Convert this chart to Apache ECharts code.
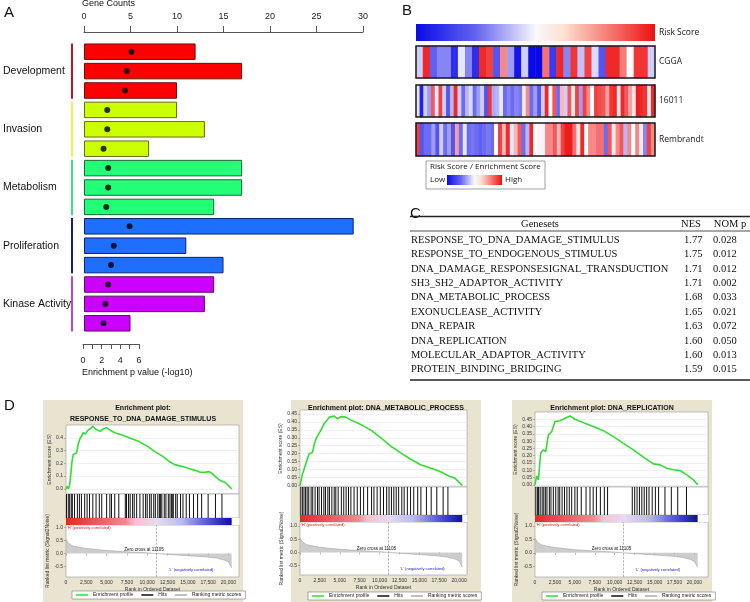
<!DOCTYPE html>
<html>
<head>
<meta charset="utf-8">
<script src="https://cdn.jsdelivr.net/npm/echarts@6/dist/echarts.min.js"></script>
<style>
  html, body { margin: 0; padding: 0; background: #fff; }
  #main { width: 750px; height: 602px; }
</style>
</head>
<body>
<div id="main"></div>
<script>
// ---- A: GO term groups ----
const groupNames = ['Development', 'Invasion', 'Metabolism', 'Proliferation', 'Kinase Activity'];
const geneCounts = [12, 17, 10, 10, 13, 7, 17, 17, 14, 29, 11, 15, 14, 13, 5];
const pLog10 = [5.1, 4.6, 4.4, 2.5, 2.5, 2.1, 2.6, 2.6, 2.4, 4.9, 3.2, 2.9, 2.6, 2.3, 2.1];
const termIds = geneCounts.map((_, i) => 'term' + (i + 1));

// ---- B: risk score / enrichment heatmaps ----
const heatRows = ['CGGA', '16011', 'Rembrandt'];
const cgga = [-0.2, 0.9, -0.65, -0.5, -0.5, -0.85, -0.1, -0.5, -0.85, 0.9, 0.8, -0.7, 0.5, -0.4, -0.95, -0.2, -1, -1,
  0.6, -0.8, 0.9, -0.5, 0.85, -0.25, 0.8, -0.15, -0.7, 0.9, 0.9, 0.55, 0.0, 0.85, 0.85, -0.2];
const gse16011 = [-0.1, -0.9, -0.2, -0.4, 0.7, -0.1, 0.8, -0.2, -0.7, -0.3,
  0.9, -0.2, -0.6, -0.3, -0.15, -0.6, -0.4, -0.2, -0.7, 0.85,
  -0.35, -0.3, -0.1, -0.6, -0.5, -0.6, -0.5, -0.55, -0.1, 0.5,
  -0.6, -0.4, -0.7, -0.2, 0.9, 0.0, 0.7, -0.6, 0.3, -0.2,
  0.7, 0.1, 0.8, -0.4, 0.8, 0.5, 0.0, 0.8, 0.75, 0.7,
  0.4, 0.85, 0.9, 0.1, 0.9, 0.7, 0.4, 0.1, 0.95, 0.9, 0.85, 0.1, 0.9];
const rembrandt = [0.8, -0.7, -0.6, -0.6, -0.4, -0.7, -0.2, -0.6, -0.4, -0.7,
  0.4, -0.6, -0.1, -0.6, -0.55, -0.6, -0.65, -0.6, -0.55, -0.6,
  0.0, 0.8, 0.3, 0.9, -0.1, 0.3, 0.7, -0.6, -0.3, 0.9,
  0.0, 0.05, -0.05, 0.5, 0.5, 0.7, 0.3, 0.8, 0.95, 0.95,
  0.6, 0.1, 0.9, 0.0, 0.5, 0.5, 0.6, 0.6, -0.6, 0.7,
  0.1, 0.5, 0.7, -0.3, 0.5, 0.0, 0.5, 0.1, -0.5, 0.8, 0.5];
const heatData = [cgga, gse16011, rembrandt];

// ---- C: GSEA table ----
const genesets = ['RESPONSE_TO_DNA_DAMAGE_STIMULUS', 'RESPONSE_TO_ENDOGENOUS_STIMULUS',
  'DNA_DAMAGE_RESPONSESIGNAL_TRANSDUCTION', 'SH3_SH2_ADAPTOR_ACTIVITY', 'DNA_METABOLIC_PROCESS',
  'EXONUCLEASE_ACTIVITY', 'DNA_REPAIR', 'DNA_REPLICATION', 'MOLECULAR_ADAPTOR_ACTIVITY', 'PROTEIN_BINDING_BRIDGING'];
const nesValues = ['1.77', '1.75', '1.71', '1.71', '1.68', '1.65', '1.63', '1.60', '1.60', '1.59'];
const nomPValues = ['0.028', '0.012', '0.012', '0.002', '0.033', '0.021', '0.072', '0.050', '0.013', '0.015'];

// ---- D: enrichment plots ----
const plotTitles = ['Enrichment plot:\nRESPONSE_TO_DNA_DAMAGE_STIMULUS',
  'Enrichment plot: DNA_METABOLIC_PROCESS', 'Enrichment plot: DNA_REPLICATION'];
const esResponse = [[0, 0], [150, 0.02], [300, 0.0], [450, 0.03], [600, 0.12], [750, 0.22], [900, 0.27], [1100, 0.26],
  [1300, 0.28], [1500, 0.35], [1700, 0.39], [1900, 0.41], [2100, 0.44], [2400, 0.43], [2700, 0.46], [3000, 0.47],
  [3300, 0.49], [3600, 0.47], [3900, 0.46], [4200, 0.45], [4600, 0.47], [5000, 0.48], [5400, 0.46], [6000, 0.44],
  [7000, 0.42], [8000, 0.395], [9000, 0.37], [10000, 0.335], [11000, 0.29], [12000, 0.25], [12800, 0.21],
  [13400, 0.19], [14000, 0.18], [14700, 0.17], [15300, 0.155], [15900, 0.145], [16500, 0.13], [17100, 0.13],
  [17600, 0.135], [18000, 0.12], [18500, 0.09], [19000, 0.065], [19600, 0.05], [20000, 0.025], [20400, 0.0]];
const esMetabolic = [[0, 0], [290, 0.067], [530, 0.056], [820, 0.15], [1150, 0.2], [1560, 0.207], [1800, 0.26],
  [2050, 0.297], [2540, 0.34], [3070, 0.39], [3690, 0.43], [4300, 0.437], [4710, 0.42], [5120, 0.433], [5740, 0.43],
  [6560, 0.408], [7790, 0.38], [9020, 0.345], [10250, 0.297], [11480, 0.245], [12700, 0.203], [13930, 0.165],
  [15160, 0.13], [16390, 0.109], [17620, 0.088], [18850, 0.056], [19470, 0.046], [20400, 0.0]];
const esReplication = [[0, 0], [210, 0.062], [420, 0.034], [710, 0.217], [1050, 0.24], [1340, 0.228], [1670, 0.342],
  [2090, 0.365], [2510, 0.434], [3140, 0.44], [3770, 0.457], [4390, 0.473], [5020, 0.45], [6070, 0.427], [7320, 0.40],
  [8580, 0.372], [9830, 0.331], [11090, 0.285], [12340, 0.24], [13600, 0.19], [14850, 0.144], [15690, 0.137],
  [16530, 0.114], [17360, 0.103], [18200, 0.098], [19040, 0.068], [19870, 0.034], [20400, 0]];
const hitsResponse = [60, 280, 450, 650, 780, 1050, 1400, 1650, 1900, 2300, 2600, 2900, 3300, 3700, 4100, 4400, 5000,
  5400, 5600, 6000, 6500, 7300, 7450, 7700, 7900, 8200, 8400, 8700, 9100, 9500, 9800, 10000, 10300, 10500, 10800,
  11000, 11300, 11500, 11650, 11800, 12100, 12300, 12600, 12800, 13000, 13150, 13200, 13500, 13700, 14100, 14400,
  14800, 15200, 15700, 16200, 16700, 17500, 18400, 19200];
const hitsMetabolic = [100, 300, 500, 700, 900, 1100, 1400, 1600, 1900, 2200, 2400, 2700, 3000, 3200, 3500, 3700, 4000,
  4300, 4500, 4800, 5200, 5500, 5800, 6100, 6400, 6800, 7200, 7600, 8000, 8500, 9000, 9300, 9700, 10100, 10500,
  10900, 11200, 11500, 11800, 12100, 12400, 12800, 13100, 13500, 13900, 14300, 14800, 15200, 15900, 16500, 17200,
  18000, 18600];
const hitsReplication = [100, 300, 450, 650, 900, 1100, 1300, 1500, 1800, 2000, 2300, 2600, 2900, 3100, 3400, 3700,
  4000, 4300, 4600, 5000, 5300, 5800, 6400, 6900, 7300, 7700, 8200, 8700, 9100, 12200, 12500, 12800, 13100, 13400,
  13700, 14000, 14300, 14700, 15100, 15500, 16300, 17100, 17900, 19000];
const rankedMetric = [[0, 0.55], [300, 0.4], [800, 0.3], [1500, 0.25], [2500, 0.2], [4000, 0.15], [5000, 0.12],
  [7500, 0.07], [10000, 0.03], [11105, 0], [12500, -0.03], [15000, -0.08], [17000, -0.12], [18500, -0.17],
  [19500, -0.25], [20000, -0.32], [20400, -0.55]];
const datasetSize = 20400;
const zeroCross = 11105;
const rankTicks = [0, 2500, 5000, 7500, 10000, 12500, 15000, 17500, 20000];
const esProfiles = [esResponse, esMetabolic, esReplication];
const hitSets = [hitsResponse, hitsMetabolic, hitsReplication];

// layout of the three GSEA plots (pixels)
const plotLayout = [
  { box: [43, 400, 200, 202], left: 66, width: 173, es: [425, 494], hits: [494, 518], bar: [518, 525], rank: [525, 577],
    xMax: 21300, esMin: -0.04, esMax: 0.5, esTicks: [0, 0.1, 0.2, 0.3, 0.4], digits: 1, rankMin: -0.9, rankMax: 1.1, legend: [72, 591] },
  { box: [291, 400, 190, 202], left: 300, width: 167, es: [410, 487], hits: [487, 515], bar: [515, 522], rank: [522, 575],
    xMax: 21000, esMin: -0.01, esMax: 0.475, esTicks: [0, 0.05, 0.1, 0.15, 0.2, 0.25, 0.3, 0.35, 0.4, 0.45], digits: 2, rankMin: -0.85, rankMax: 1.15, legend: [308, 592] },
  { box: [512, 400, 200, 202], left: 535, width: 173, es: [412, 487], hits: [487, 515], bar: [515, 522], rank: [522, 577],
    xMax: 21700, esMin: -0.015, esMax: 0.5, esTicks: [0, 0.05, 0.1, 0.15, 0.2, 0.25, 0.3, 0.35, 0.4, 0.45], digits: 2, rankMin: -0.9, rankMax: 1.15, legend: [542, 592] }
];

const SANS = 'Liberation Sans, Arial, sans-serif';
const barFill = ['#ff0000', '#ccff00', '#22ff77', '#1f6fff', '#cc00ff'];
const barEdge = ['#6a1010', '#6a6a20', '#1a6a3a', '#10206a', '#5a105a'];
const groupLine = ['#c8102e', '#f2f04a', '#3ee08e', '#1a1a8c', '#c040d0'];

const chart = echarts.init(document.getElementById('main'));

const grids = [
  { left: 83, top: 42, width: 280, height: 291 },
  { left: 83, top: 334, width: 56, height: 10 }
];
const xAxes = [
  { gridIndex: 0, type: 'value', position: 'top', offset: 10, min: 0, max: 30, interval: 5,
    axisLine: { show: true, lineStyle: { color: '#555' } },
    axisTick: { show: true, length: 6, lineStyle: { color: '#555' } },
    axisLabel: { fontSize: 9, color: '#222', margin: 11 }, splitLine: { show: false } },
  { gridIndex: 0, type: 'value', min: 0, max: 30, show: false },
  { gridIndex: 1, type: 'value', position: 'bottom', min: 0, max: 6, interval: 1,
    axisLine: { show: true, lineStyle: { color: '#555' } },
    axisTick: { show: true, length: 5, lineStyle: { color: '#555' } },
    axisLabel: { fontSize: 9, color: '#222', margin: 12, formatter: v => (v % 2 === 0 ? String(v) : '') },
    splitLine: { show: false } }
];
const yAxes = [
  { gridIndex: 0, type: 'category', inverse: true, data: termIds,
    axisLine: { show: false }, axisTick: { show: false },
    axisLabel: { interval: 0, align: 'left', margin: 81, fontSize: 10.5, color: '#111',
      formatter: (v, i) => (i % 3 === 1 ? groupNames[(i - 1) / 3] : '') } },
  { gridIndex: 1, type: 'value', min: 0, max: 1, show: false }
];
const series = [
  { type: 'bar', xAxisIndex: 0, yAxisIndex: 0, barCategoryGap: '15%',
    data: geneCounts.map((v, i) => ({ value: v, itemStyle: { color: barFill[Math.floor(i / 3)], borderColor: barEdge[Math.floor(i / 3)], borderWidth: 1 } })) },
  { type: 'scatter', xAxisIndex: 1, yAxisIndex: 0, symbolSize: 6, itemStyle: { color: '#000' },
    data: pLog10.map((v, i) => [v, i]) }
];

// B heatmaps
const heatTops = [46, 85, 123];
const heatSeries = [];
heatRows.forEach((name, k) => {
  const gi = grids.length;
  grids.push({ left: 416, top: heatTops[k], width: 239, height: k === 2 ? 33 : 32, show: true, z: 10,
    backgroundColor: 'transparent', borderColor: '#1a1a1a', borderWidth: 1.5 });
  xAxes.push({ gridIndex: gi, type: 'category', data: heatData[k].map((_, i) => i), show: false });
  yAxes.push({ gridIndex: gi, type: 'category', data: [name], position: 'right',
    axisLine: { show: false }, axisTick: { show: false },
    axisLabel: { margin: 4, fontSize: 8.5, color: '#222', fontFamily: 'Open Sans' } });
  heatSeries.push(series.length);
  series.push({ type: 'heatmap', xAxisIndex: xAxes.length - 1, yAxisIndex: yAxes.length - 1,
    data: heatData[k].map((v, i) => [i, 0, v]) });
});

// D enrichment plots: ES / hits / ranked metric grids
const legends = [];
plotLayout.forEach((L, p) => {
  const panel = { show: true, backgroundColor: '#fff', borderColor: '#999', borderWidth: 0.6 };
  const g0 = grids.length;
  grids.push(Object.assign({ left: L.left, width: L.width, top: L.es[0], height: L.es[1] - L.es[0] }, panel));
  grids.push(Object.assign({ left: L.left, width: L.width, top: L.hits[0], height: L.hits[1] - L.hits[0] }, panel));
  grids.push(Object.assign({ left: L.left, width: L.width, top: L.rank[0], height: L.rank[1] - L.rank[0] }, panel));
  const x0 = xAxes.length, y0 = yAxes.length;
  const tiny = { fontSize: 5, color: '#333' };
  xAxes.push({ gridIndex: g0, type: 'value', min: 0, max: L.xMax, show: false });
  xAxes.push({ gridIndex: g0 + 1, type: 'value', min: 0, max: L.xMax, show: false });
  xAxes.push({ gridIndex: g0 + 2, type: 'value', min: 0, max: L.xMax,
    axisLine: { show: false }, splitLine: { show: false },
    axisTick: { customValues: rankTicks, length: 2, lineStyle: { color: '#777', width: 0.5 } },
    axisLabel: Object.assign({ customValues: rankTicks, margin: 3, formatter: v => v.toLocaleString('en-US') }, tiny),
    name: 'Rank in Ordered Dataset', nameLocation: 'middle', nameGap: 10, nameTextStyle: tiny });
  yAxes.push({ gridIndex: g0, type: 'value', min: L.esMin, max: L.esMax,
    axisLine: { show: false },
    axisTick: { customValues: L.esTicks, length: 2, lineStyle: { color: '#777', width: 0.5 } },
    axisLabel: Object.assign({ customValues: L.esTicks, margin: 3, formatter: v => v.toFixed(L.digits) }, tiny),
    splitLine: { show: true, lineStyle: { color: '#e2e2e2', width: 0.5 } },
    name: 'Enrichment score (ES)', nameLocation: 'middle', nameGap: 14, nameTextStyle: tiny });
  yAxes.push({ gridIndex: g0 + 1, type: 'value', min: 0, max: 1, show: false });
  yAxes.push({ gridIndex: g0 + 2, type: 'value', min: L.rankMin, max: L.rankMax,
    axisLine: { show: false }, splitLine: { show: false },
    axisTick: { customValues: [-0.5, 0, 0.5, 1], length: 2, lineStyle: { color: '#777', width: 0.5 } },
    axisLabel: Object.assign({ customValues: [-0.5, 0, 0.5, 1], margin: 3, formatter: v => v.toFixed(1) }, tiny),
    name: 'Ranked list metric (Signal2Noise)', nameLocation: 'middle', nameGap: 14, nameTextStyle: tiny });

  series.push({ type: 'line', name: 'Enrichment profile', xAxisIndex: x0, yAxisIndex: y0, data: esProfiles[p],
    showSymbol: false, lineStyle: { color: '#33dd33', width: 1.6 }, itemStyle: { color: '#33dd33' } });
  series.push({ type: 'bar', name: 'Hits', xAxisIndex: x0 + 1, yAxisIndex: y0 + 1, barWidth: 0.8,
    data: hitSets[p].map(r => [r, 1]), itemStyle: { color: '#111' } });
  series.push({ type: 'line', name: 'Ranking metric scores', xAxisIndex: x0 + 2, yAxisIndex: y0 + 2, data: rankedMetric,
    showSymbol: false, lineStyle: { color: '#999', width: 0.5 }, itemStyle: { color: '#aaa' },
    areaStyle: { color: '#b8b8b8' },
    markLine: { silent: true, symbol: 'none', label: { show: false },
      lineStyle: { color: '#888', type: 'dashed', width: 0.6 }, data: [{ xAxis: zeroCross }] } });

  legends.push({ left: L.legend[0], top: L.legend[1], orient: 'horizontal', selectedMode: false,
    data: ['Enrichment profile', 'Hits', 'Ranking metric scores'], icon: 'rect',
    itemWidth: 12, itemHeight: 1.5, itemGap: 8, padding: [1.5, 4],
    backgroundColor: '#fff', borderColor: '#777', borderWidth: 0.6,
    textStyle: { fontSize: 5, color: '#222' } });
});

chart.setOption({
  animation: false,
  textStyle: { fontFamily: SANS },
  grid: grids,
  xAxis: xAxes,
  yAxis: yAxes,
  legend: legends,
  visualMap: [{ type: 'continuous', show: false, seriesIndex: heatSeries, min: -1, max: 1,
    inRange: { color: ['#0a0ae8', '#ffffff', '#ee1010'] } }],
  series: series
});

// decorations that depend on the scales
function buildGraphics() {
  const gr = [];
  const txt = (x, y, s, style, extra) => gr.push(Object.assign({ type: 'text', x: x, y: y,
    style: Object.assign({ text: s, fontFamily: SANS, fill: '#111', verticalAlign: 'middle' }, style) }, extra || {}));

  [['A', 4, 13], ['B', 402, 11], ['C', 410, 214], ['D', 4, 406]].forEach(d => txt(d[1], d[2], d[0], { fontSize: 15 }));

  // A
  txt(82, 4, 'Gene Counts', { fontSize: 9 });
  txt(82, 373, 'Enrichment p value (-log10)', { fontSize: 9 });
  const cy = i => chart.convertToPixel({ yAxisIndex: 0 }, i);
  const half = Math.abs(cy(1) - cy(0)) * 0.85 / 2;
  groupNames.forEach((_, k) => {
    gr.push({ type: 'rect', shape: { x: 71, y: cy(3 * k) - half, width: 2, height: cy(3 * k + 2) - cy(3 * k) + 2 * half },
      style: { fill: groupLine[k] } });
  });

  // B colour keys
  const ramp = () => new echarts.graphic.LinearGradient(0, 0, 1, 0, [
    { offset: 0, color: '#0a0ae8' }, { offset: 0.25, color: '#6464f0' }, { offset: 0.5, color: '#f8f8fc' },
    { offset: 0.62, color: '#fde0d2' }, { offset: 1, color: '#ee1010' }]);
  gr.push({ type: 'rect', shape: { x: 416, y: 24, width: 239, height: 17 }, style: { fill: ramp() } });
  txt(659, 33, 'Risk Score', { fontSize: 8.5, fontFamily: 'Open Sans' });
  gr.push({ type: 'rect', shape: { x: 426, y: 161, width: 119, height: 28 }, style: { fill: '#fff', stroke: '#888', lineWidth: 0.8 } });
  txt(430, 167, 'Risk Score / Enrichment Score', { fontSize: 8, fontFamily: 'Open Sans' });
  txt(430, 180, 'Low', { fontSize: 8, fontFamily: 'Open Sans' });
  gr.push({ type: 'rect', shape: { x: 447, y: 175, width: 55, height: 10 }, style: { fill: ramp() } });
  txt(505, 180, 'High', { fontSize: 8, fontFamily: 'Open Sans' });

  // C table
  const SERIF = 'Liberation Serif, Times New Roman, serif';
  const line = (y, w) => gr.push({ type: 'line', shape: { x1: 410, y1: y, x2: 750, y2: y }, style: { stroke: '#222', lineWidth: w } });
  line(216.5, 1.5); line(231, 0.8); line(380, 1.5);
  txt(540, 224, 'Genesets', { fontSize: 10.5, fontFamily: SERIF, align: 'center' });
  txt(691, 224, 'NES', { fontSize: 10.5, fontFamily: SERIF, align: 'center' });
  txt(730, 224, 'NOM p', { fontSize: 10.5, fontFamily: SERIF, align: 'center' });
  genesets.forEach((s, i) => {
    const y = 240 + i * 14.4;
    txt(411, y, s, { fontSize: 10.5, fontFamily: SERIF });
    txt(684, y, nesValues[i], { fontSize: 10.5, fontFamily: SERIF });
    txt(713, y, nomPValues[i], { fontSize: 10.5, fontFamily: SERIF });
  });

  // D frames, titles, colour bars and notes
  plotLayout.forEach((L, p) => {
    const rankGrid = 5 + 3 * p + 2;
    const px = v => chart.convertToPixel({ gridIndex: rankGrid }, v);
    gr.push({ type: 'rect', z: -10, shape: { x: L.box[0], y: L.box[1], width: L.box[2], height: L.box[3] },
      style: { fill: '#e8e4d0' } });
    gr.push({ type: 'text', x: L.box[0] + L.box[2] / 2, y: L.box[1] + 3, style: { text: plotTitles[p], fontFamily: SANS,
      fontWeight: 'bold', fontSize: 7, lineHeight: 11, align: 'center', verticalAlign: 'top', fill: '#111' } });
    gr.push({ type: 'rect', shape: { x: L.left, y: L.bar[0], width: L.width, height: L.bar[1] - L.bar[0] },
      style: { fill: '#fff' } });
    const end = px([datasetSize, 0])[0];
    gr.push({ type: 'rect', shape: { x: L.left, y: L.bar[0], width: end - L.left, height: L.bar[1] - L.bar[0] },
      style: { fill: new echarts.graphic.LinearGradient(0, 0, 1, 0, [
        { offset: 0, color: '#e3282a' }, { offset: 0.36, color: '#f08a90' }, { offset: 0.42, color: '#f4c2d4' },
        { offset: 0.55, color: '#e6dcef' }, { offset: 0.7, color: '#b9b9ec' }, { offset: 0.82, color: '#6a6ae0' },
        { offset: 0.92, color: '#3434c8' }, { offset: 1, color: '#10109a' }]) } });
    txt(L.left + 1, L.bar[1] + 2.5, "'H' (positively correlated)", { fontSize: 4, fill: '#d02020' });
    const zc = px([9600, 0.14]);
    txt(zc[0], zc[1], 'Zero cross at ' + zeroCross, { fontSize: 4.5, align: 'center' });
    const lp = px([15400, -0.62]);
    txt(lp[0], lp[1], "'L' (negatively correlated)", { fontSize: 4, fill: '#2020c0', align: 'center' });
  });
  return gr;
}

chart.setOption({ graphic: { elements: buildGraphics() } });
</script>
</body>
</html>
